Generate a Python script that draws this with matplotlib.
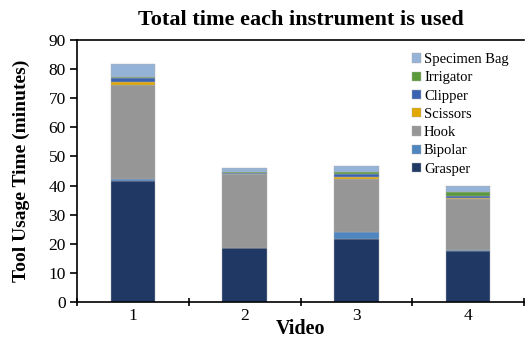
import numpy as np
import matplotlib.pyplot as plt

plt.rcParams['font.family'] = ['Liberation Serif', 'DejaVu Serif']

videos = ['1', '2', '3', '4']
tools = ['Grasper', 'Bipolar', 'Hook', 'Scissors', 'Clipper', 'Irrigator', 'Specimen Bag']
grasper = [41.7, 18.4, 21.6, 17.6]
bipolar = [0.7, 0.3, 2.3, 0.2]
hook = [32.3, 25.1, 18.4, 17.6]
scissors = [0.9, 0.3, 0.7, 0.3]
clipper = [1.4, 0.3, 0.9, 0.6]
irrigator = [0.3, 0.4, 0.6, 1.5]
specimen_bag = [4.4, 1.1, 2.3, 1.9]

colors = ['#1f3864', '#4f86c0', '#969696', '#e0a800', '#3a62b0', '#5b9a3b', '#95b3d7']
series = [grasper, bipolar, hook, scissors, clipper, irrigator, specimen_bag]

fig = plt.figure(figsize=(5.3, 3.41), dpi=100)
ax = fig.add_axes([77/530, 1-302/341, 447/530, 262/341])

x = np.arange(len(videos))
bottom = np.zeros(len(videos))
for name, vals, c in zip(tools, series, colors):
    ax.bar(x, vals, 0.4, bottom=bottom, color=c, label=name,
           edgecolor='#b0b0b0', linewidth=0.3)
    bottom += np.array(vals)

ax.set_xlim(-0.5, 3.5)
ax.set_ylim(0, 90)
ax.set_yticks(np.arange(0, 91, 10))
ax.set_xticks(np.arange(-0.5, 3.6, 1))
ax.set_xticklabels([])
ax.set_xticks(x, minor=True)
ax.set_xticklabels(videos, minor=True)
ax.tick_params(axis='x', which='minor', length=0, pad=4, labelsize=12.5)
ax.tick_params(axis='x', which='major', direction='inout', length=6, width=1.2)
ax.tick_params(axis='y', direction='out', length=5, width=1.2, labelsize=12.5, pad=3)
ax.spines['right'].set_visible(False)
for s in ['left', 'bottom', 'top']:
    ax.spines[s].set_linewidth(1.2)

ax.set_title('Total time each instrument is used', fontsize=16,
             fontweight='bold', pad=11)
ax.set_ylabel('Tool Usage Time (minutes)', fontsize=14, fontweight='bold', labelpad=13)
ax.set_xlabel('Video', fontsize=14.5, fontweight='bold', labelpad=-3)

h, l = ax.get_legend_handles_labels()
ax.legend(h[::-1], l[::-1], loc='upper right', bbox_to_anchor=(0.995, 1.0),
          frameon=False, fontsize=10.5, handlelength=0.6, handleheight=0.6,
          handletextpad=0.2, labelspacing=0.36)

plt.savefig('out.png', dpi=100)
